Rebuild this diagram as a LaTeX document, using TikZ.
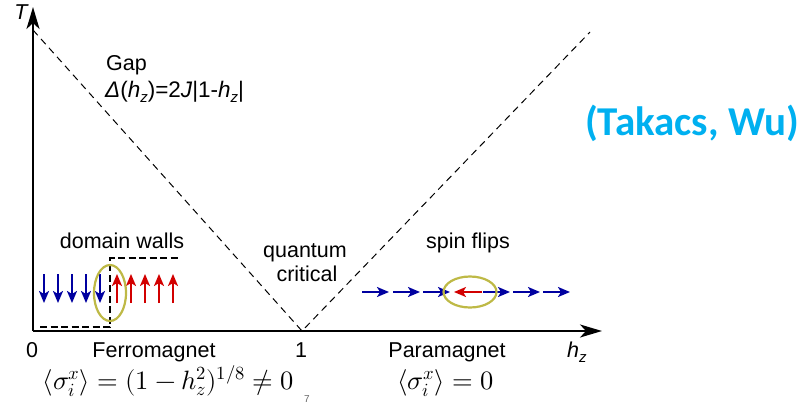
\documentclass[tikz,border=0pt]{standalone}
\usepackage{fontspec}
\setmainfont{Liberation Sans}
\newfontfamily\calib{Carlito}
\usepackage{unicode-math}
\setmathfont{Latin Modern Math}
\usetikzlibrary{arrows.meta,shapes.geometric}
\definecolor{spinblue}{RGB}{0,0,160}
\definecolor{spinred}{RGB}{210,0,0}
\definecolor{ringcol}{RGB}{190,185,70}
\definecolor{citecol}{RGB}{0,176,240}
\tikzset{
  axis/.style={line width=2.2pt,-{Stealth[length=22pt,width=13pt,inset=6pt]}},
  phase/.style={line width=1pt,dash pattern=on 7pt off 5pt},
  boxdash/.style={line width=1.4pt,dash pattern=on 7pt off 3.5pt},
  bspin/.style={spinblue,line width=2pt,-{Stealth[length=12pt,width=10pt,inset=3pt]}},
  rspin/.style={spinred,line width=2pt,-{Stealth[length=12pt,width=10pt,inset=3pt]}},
  ring/.style={ringcol,line width=2.2pt},
  lbl/.style={font=\fontsize{21.5}{24}\selectfont,inner sep=0pt,anchor=base},
  mathlbl/.style={inner sep=0pt,font=\fontsize{26.5}{28}\selectfont},
}
\newcommand{\itz}[1]{\textit{#1}}
\newcommand{\subz}{\raisebox{-5pt}{\fontsize{15}{15}\selectfont\itz{z}}}
\begin{document}
\begin{tikzpicture}[x=1pt,y=-1pt]
\useasboundingbox (0,0) rectangle (803,405);
% axes
\coordinate (O) at (33,331);
\coordinate (Ttop) at (33,7);
\coordinate (Hend) at (602,331);
\draw[axis] (O) -- (Ttop);
\draw[axis] (O) -- (Hend);
% phase lines
\coordinate (L) at (33,30);
\coordinate (C) at (302,331);
\coordinate (R) at (590,32);
\draw[phase] (L) -- (C) -- (R);
% labels
\node[lbl,font=\fontsize{21.5}{24}\selectfont\itshape] (T) at (21,19) {T};
\node[lbl,anchor=base west] (gap) at (106,70) {Gap};
\node[lbl,anchor=base west,font=\fontsize{22.5}{24}\selectfont] (delta) at (105,97) {\itz{Δ}(\itz{h}\subz)=2\itz{J}|1-\itz{h}\subz|};
\node[font=\calib\bfseries\fontsize{41}{44}\selectfont,text=citecol,inner sep=0pt] (cite) at (692,123) {(Takacs, Wu)};
\node[lbl] (dw) at (122,248) {domain walls};
\node[lbl] (qc1) at (305,257) {quantum};
\node[lbl] (qc2) at (307,281) {critical};
\node[lbl] (sf) at (468,248) {spin flips};
\node[lbl] (zero) at (32,357) {0};
\node[lbl] (ferro) at (154,357) {Ferromagnet};
\node[lbl] (one) at (301,357) {1};
\node[lbl] (para) at (447,357) {Paramagnet};
\node[lbl,anchor=base west] (hz) at (567,357) {\itz{h}\subz};
\node[mathlbl,anchor=base east] (mf) at (294,389) {$\langle\sigma_i^x\rangle=(1-h_z^2)^{1/8}\neq 0$};
\node[mathlbl,anchor=base west] (mp) at (397,389) {$\langle\sigma_i^x\rangle=0$};
\node[inner sep=0pt,font=\fontsize{10}{10}\selectfont,text=black!60,anchor=base] (pg) at (307,402) {7};
% domain wall box
\coordinate (b1) at (40,327);
\coordinate (b2) at (110,327);
\coordinate (b3) at (110,258);
\coordinate (b4) at (181,258);
\draw[boxdash] (b1) -- (b2) -- (b3) -- (b4);
% down spins
\foreach \x in {44,58,72,86,100}{
  \coordinate (d\x a) at (\x,274);
  \coordinate (d\x b) at (\x,303);
  \draw[bspin] (d\x a) -- (d\x b);
}
\foreach \x in {117,131,145,159,173}{
  \coordinate (u\x a) at (\x,303);
  \coordinate (u\x b) at (\x,274);
  \draw[rspin] (u\x a) -- (u\x b);
}
\node[ring,draw,ellipse,minimum width=32pt,minimum height=56pt,inner sep=0pt] (dwring) at (110,293) {};
% spin flips
\foreach \x in {362,393,423,483,513,543}{
  \coordinate (s\x a) at (\x,292);
  \coordinate (s\x b) at ({\x+27},292);
  \draw[bspin] (s\x a) -- (s\x b);
}
\coordinate (fa) at (482,292);
\coordinate (fb) at (454,292);
\draw[rspin] (fa) -- (fb);
\node[ring,draw,ellipse,minimum width=53pt,minimum height=31pt,inner sep=0pt] (sfring) at (470,292) {};
\end{tikzpicture}
\end{document}
